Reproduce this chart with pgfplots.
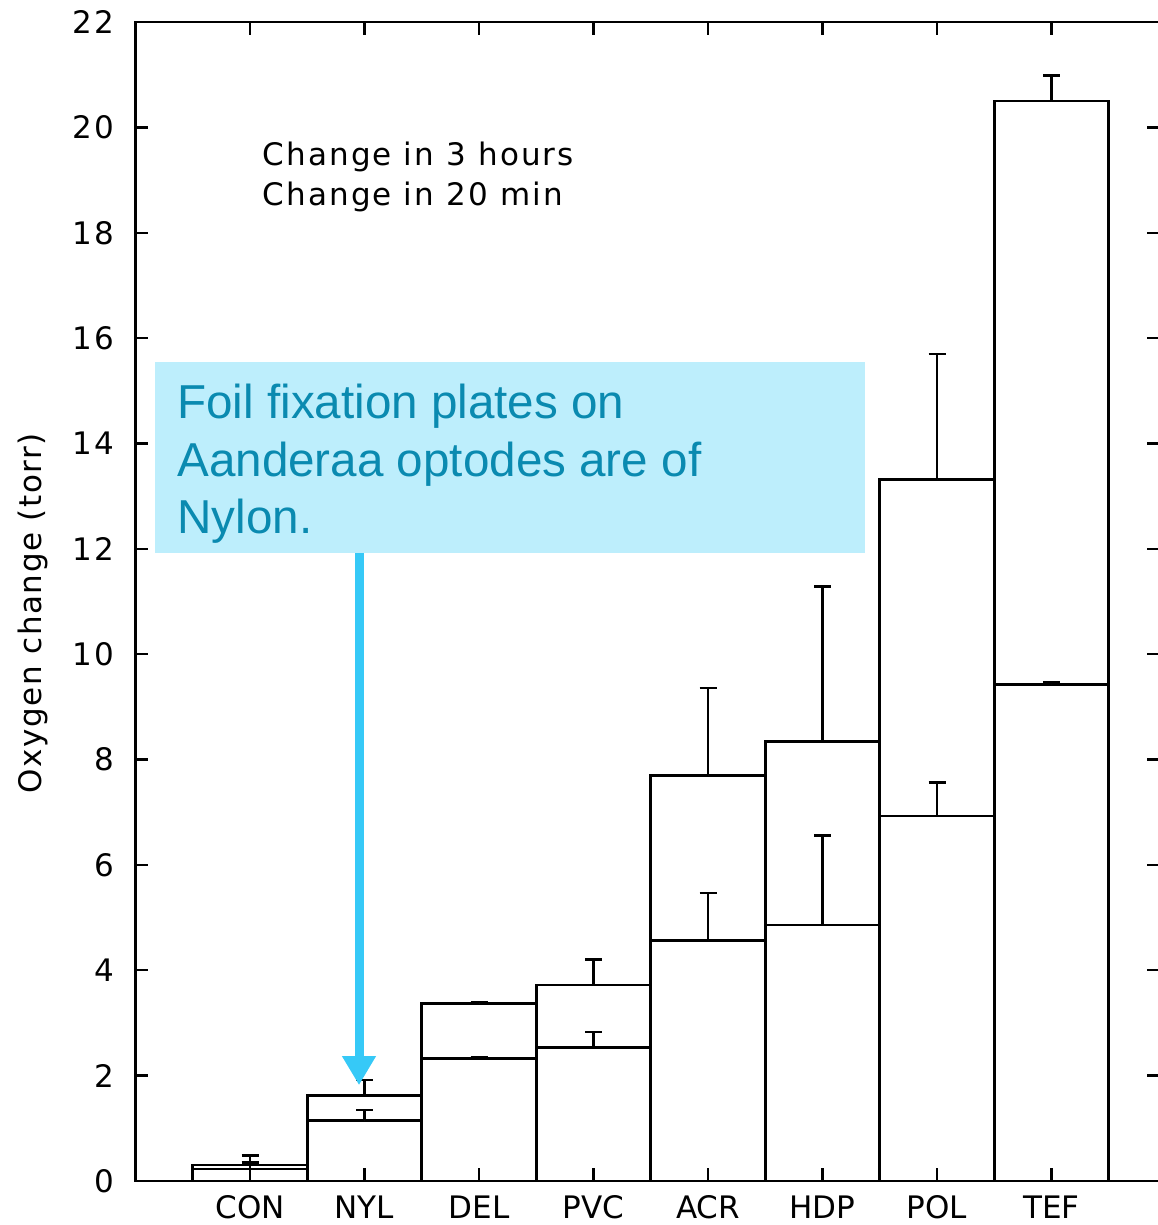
\documentclass[border=0pt]{standalone}
\usepackage{fontspec}
\usepackage{pgfplots}
\pgfplotsset{compat=1.18}
\usetikzlibrary{arrows.meta}
\newfontfamily\hfont[LetterSpace=5]{DejaVu Sans}
\newfontfamily\lfont[LetterSpace=7]{DejaVu Sans}
\newfontfamily\xfont{DejaVu Sans}
\newfontfamily\afont{Liberation Sans}
\definecolor{boxcyan}{HTML}{BDEEFC}
\definecolor{txtteal}{HTML}{0A8AB0}
\definecolor{arrcyan}{HTML}{36C9F7}
\begin{document}
\begin{tikzpicture}
\begin{axis}[
  name=ax,
  width=512.4pt, height=579.5pt, scale only axis,
  xmin=-1, xmax=7.95, ymin=0, ymax=22,
  xtick={0,1,2,3,4,5,6,7},
  xticklabels={CON,NYL,DEL,PVC,ACR,HDP,POL,TEF},
  ytick={0,2,4,6,8,10,12,14,16,18,20,22},
  axis on top,
  axis line style={line width=1.3pt},
  tick style={line width=1.2pt, black},
  major tick length=6.5pt,
  tick align=inside,
  /pgf/number format/assume math mode=true,
  yticklabel style={xshift=-7pt, font=\lfont\fontsize{15.5}{18}\selectfont},
  xticklabel style={yshift=-3.8pt, font=\xfont\fontsize{15.5}{18}\selectfont},
  ylabel={Oxygen change (torr)},
  every axis y label/.style={at={(axis description cs:-0.1,0.49)}, rotate=90, anchor=center, font=\hfont\fontsize{15.5}{18}\selectfont},
]
% Change in 3 hours
\addplot[ybar, bar width=1, bar shift=0, fill=white, draw=black, line width=1.3pt,
  error bars/.cd, y dir=plus, y explicit,
  error bar style={line width=1.3pt},
  error mark options={rotate=90, mark size=4.25pt, line width=1.3pt}]
coordinates {
  (0,0.30) +- (0,0.18)
  (1,1.62) +- (0,0.30)
  (2,3.37) +- (0,0.03)
  (3,3.72) +- (0,0.48)
  (4,7.70) +- (0,1.66)
  (5,8.34) +- (0,2.94)
  (6,13.32) +- (0,2.38)
  (7,20.50) +- (0,0.48)
};
% Change in 20 min
\addplot[ybar, bar width=1, bar shift=0, fill=white, draw=black, line width=1.3pt,
  error bars/.cd, y dir=plus, y explicit,
  error bar style={line width=1.3pt},
  error mark options={rotate=90, mark size=4.25pt, line width=1.3pt}]
coordinates {
  (0,0.23) +- (0,0.12)
  (1,1.15) +- (0,0.20)
  (2,2.32) +- (0,0.02)
  (3,2.53) +- (0,0.30)
  (4,4.57) +- (0,0.90)
  (5,4.86) +- (0,1.70)
  (6,6.93) +- (0,0.63)
  (7,9.43) +- (0,0.03)
};
\node[anchor=base west, inner sep=0pt, font=\lfont\fontsize{15.5}{18}\selectfont] at (axis cs:0.105,19.27) {Change in 3 hours};
\node[anchor=base west, inner sep=0pt, font=\lfont\fontsize{15.5}{18}\selectfont] at (axis cs:0.105,18.52) {Change in 20 min};
\fill[boxcyan] (axis cs:-0.83,15.547) rectangle (axis cs:5.371,11.921);
\node[anchor=base west, inner sep=0pt, text=txtteal, font=\afont\fontsize{23.8}{28}\selectfont] at (axis cs:-0.638,14.48) {Foil fixation plates on};
\node[anchor=base west, inner sep=0pt, text=txtteal, font=\afont\fontsize{23.8}{28}\selectfont] at (axis cs:-0.638,13.38) {Aanderaa optodes are of};
\node[anchor=base west, inner sep=0pt, text=txtteal, font=\afont\fontsize{23.8}{28}\selectfont] at (axis cs:-0.638,12.30) {Nylon.};
\draw[arrcyan, line width=4.5pt, -{Triangle[width=16pt,length=14.5pt]}] (axis cs:0.952,11.921) -- (axis cs:0.952,1.82);
\end{axis}
\pgfresetboundingbox
\path[use as bounding box] ([shift={(-67.75pt,-22pt)}]ax.south west) rectangle ([shift={(510.75pt,590.5pt)}]ax.south west);
\end{tikzpicture}
\end{document}
